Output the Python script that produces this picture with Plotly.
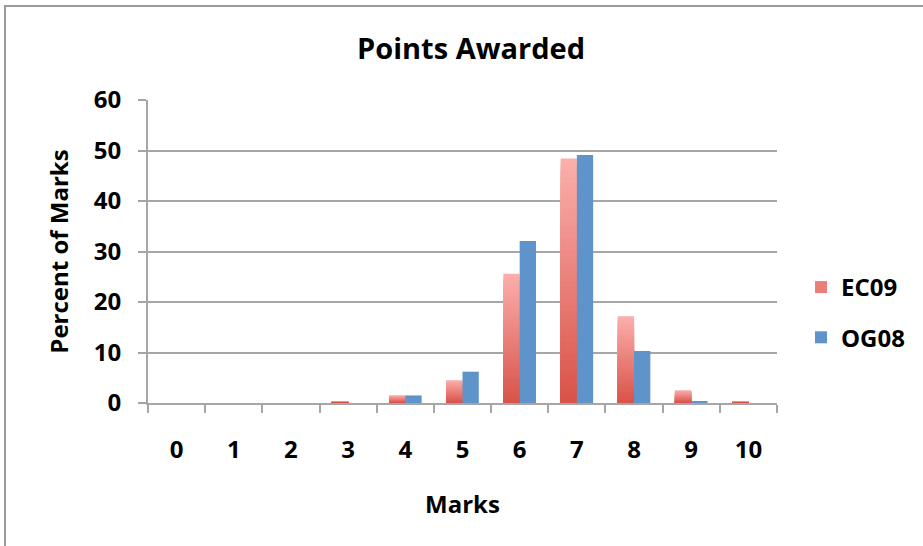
import plotly.graph_objects as go

# Percentage of marks awarded per score, for the two cohorts
marks = ["0", "1", "2", "3", "4", "5", "6", "7", "8", "9", "10"]
ec09 = [0, 0, 0, 0.3, 1.5, 4.5, 25.6, 48.4, 17.2, 2.5, 0.3]
og08 = [0, 0, 0, 0, 1.5, 6.2, 32.1, 49.1, 10.3, 0.3, 0]

EC_LIGHT = (251, 174, 171)
EC_DARK = (217, 83, 74)
OG_BLUE = "#5E94C9"
GRID = "#a6a6a6"
FONT = "Open Sans"

BAR_W = 0.285
STEPS = 40


def mix(a, b, t):
    return "rgb(%d,%d,%d)" % tuple(round(a[i] + (b[i] - a[i]) * t) for i in range(3))


fig = go.Figure()

# EC09: vertical light-to-dark shading built from overlaid bars of shrinking height
for k in range(STEPS):
    frac = (STEPS - k) / STEPS
    fig.add_trace(go.Bar(
        x=marks, y=[v * frac for v in ec09],
        width=BAR_W, offset=-BAR_W,
        marker=dict(color=mix(EC_LIGHT, EC_DARK, k / (STEPS - 1)), line=dict(width=0)),
        name="EC09", legendgroup="EC09", showlegend=(k == STEPS // 2),
        hoverinfo="skip" if k else None,
    ))

fig.add_trace(go.Bar(
    x=marks, y=og08,
    width=BAR_W, offset=0,
    marker=dict(color=OG_BLUE, line=dict(width=0)),
    name="OG08", legendgroup="OG08",
))

bold24 = dict(size=24, family=FONT, color="black", weight="bold")

fig.update_layout(
    width=923, height=546,
    margin=dict(l=148, r=146, t=100, b=143),
    paper_bgcolor="white", plot_bgcolor="white",
    barmode="overlay",
    font=dict(family=FONT, color="black", size=24),
    title=dict(text="Points Awarded", x=471 / 923, xref="container", xanchor="center",
               y=1 - 49 / 546, yref="container", yanchor="middle",
               font=dict(size=29, family=FONT, color="black", weight="bold")),
    legend=dict(x=801 / 923, y=1 - 265 / 546, xref="container", yref="container",
                xanchor="left", yanchor="top",
                font=bold24, tracegroupgap=16, bgcolor="rgba(0,0,0,0)", itemwidth=30),
    showlegend=True,
    shapes=[dict(type="rect", xref="paper", yref="paper",
                 x0=(5 - 148) / 629, x1=2.0, y0=-2.0, y1=(403 - 6) / 303,
                 line=dict(color="#9a9a9a", width=2), layer="below")],
)

fig.update_xaxes(
    type="category", range=[-0.5, 10.5],
    showline=True, linecolor=GRID, linewidth=2,
    ticks="outside", tickson="boundaries", ticklen=8, tickwidth=2, tickcolor=GRID,
    tickfont=bold24,
    ticklabelstandoff=24,
    showgrid=False,
    title=dict(text="Marks", font=bold24, standoff=32),
)
fig.update_yaxes(
    range=[0, 60], dtick=10,
    showline=True, linecolor=GRID, linewidth=2,
    ticks="outside", ticklen=8, tickwidth=2, tickcolor=GRID,
    tickfont=bold24,
    ticklabelstandoff=12,
    showgrid=True, gridcolor=GRID, gridwidth=2,
    zeroline=False,
    title=dict(text="Percent of Marks", font=bold24, standoff=18),
)

fig.write_html("out.html")
